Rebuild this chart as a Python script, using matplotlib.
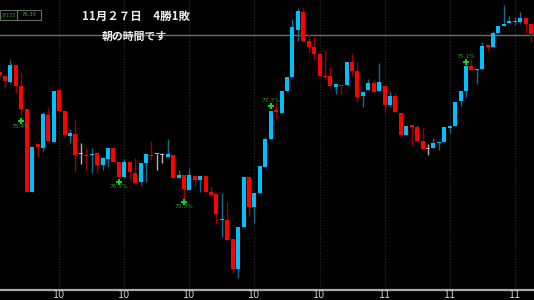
import matplotlib
matplotlib.use("Agg")
import matplotlib.pyplot as plt
import numpy as np
from matplotlib.patches import Rectangle

plt.rcParams["font.family"] = ["Noto Sans CJK JP", "DejaVu Sans"]

# 5-minute candles (arbitrary price units)
opens = [228, 224, 218, 235, 214, 191, 108, 156, 152, 185, 158, 210, 189, 164, 166, 146, 145, 145, 147, 135,
         141, 152, 138, 123, 138, 127, 118, 137, 145, 146, 145, 143, 145, 122, 125, 110, 124, 120, 124, 108,
         106, 80, 80, 61, 31, 73, 123, 93, 107, 133, 161, 190, 187, 209, 223, 270, 288, 259, 253, 246,
         224, 224, 213, 215, 215, 238, 229, 204, 210, 217, 209, 214, 195, 204, 187, 165, 175, 173, 159, 151,
         152, 157, 158, 172, 174, 199, 209, 234, 230, 231, 255, 253, 267, 274, 277, 278, 278, 282, 276]
closes = [225, 219, 235, 214, 191, 108, 153, 153, 186, 159, 209, 189, 165, 167, 145, 146, 144, 146, 135, 142,
          152, 138, 123, 138, 128, 117, 137, 146, 144, 146, 145, 146, 122, 125, 111, 125, 120, 124, 108, 105,
          86, 81, 60, 31, 73, 123, 93, 107, 134, 161, 189, 188, 209, 223, 273, 289, 259, 253, 246, 224,
          223, 214, 216, 214, 238, 229, 203, 208, 217, 208, 218, 195, 204, 188, 165, 174, 173, 159, 151, 151,
          157, 158, 173, 174, 198, 209, 234, 230, 231, 254, 253, 267, 274, 276, 279, 279, 282, 276, 266]
highs = [228, 224, 240, 235, 228, 191, 153, 156, 188, 192, 209, 210, 189, 171, 180, 157, 152, 152, 147, 142,
         152, 152, 138, 141, 138, 142, 137, 146, 159, 146, 147, 161, 145, 130, 125, 132, 124, 124, 124, 114,
         106, 107, 98, 61, 73, 123, 123, 107, 134, 163, 189, 198, 209, 223, 281, 292, 292, 266, 263, 246,
         250, 233, 216, 215, 238, 246, 238, 208, 221, 220, 237, 214, 209, 207, 187, 174, 175, 175, 172, 156,
         162, 158, 173, 174, 198, 209, 234, 241, 231, 258, 255, 269, 274, 295, 284, 283, 288, 282, 276]
lows = [225, 213, 217, 207, 185, 108, 108, 143, 149, 159, 158, 189, 165, 157, 129, 136, 130, 127, 127, 130,
        133, 138, 123, 123, 120, 117, 115, 118, 140, 130, 137, 143, 122, 122, 100, 110, 114, 108, 108, 105,
        76, 63, 60, 27, 22, 73, 84, 77, 107, 133, 161, 181, 187, 209, 223, 259, 259, 247, 240, 224,
        223, 214, 206, 206, 215, 224, 198, 193, 210, 208, 209, 187, 193, 188, 163, 165, 154, 159, 151, 145,
        152, 150, 158, 167, 174, 194, 203, 230, 216, 231, 249, 253, 267, 274, 277, 275, 276, 267, 258]

hour_ticks = [11, 23, 35, 47, 59, 71, 83, 95]
hour_labels = ["10", "10", "10", "10", "10", "11", "11", "11"]

# signal arrows: candle index, arrow level, text level, text
sig_idx = [4, 22, 34, 50, 86]
sig_arrow = [179, 118, 98, 194, 238]
sig_text_y = [174, 113, 93, 199, 243]
sig_text = ["75.4%", "76.1%", "75.3%", "77.3%", "75.1%"]

BULL = "#00bfff"
BEAR = "#ff0000"
BULL_WICK = "#136b8c"
BEAR_WICK = "#9a0000"
DOJI = "#b4b4b4"

fig = plt.figure(figsize=(5.34, 3.0), dpi=100, facecolor="black")
ax = fig.add_axes([0, 0, 1, 1])
ax.set_facecolor("black")
ax.set_xlim(0.08, 98.55)
ax.set_ylim(0, 300)
ax.axis("off")

# hour separators
for t in hour_ticks:
    ax.plot([t, t], [10.5, 300], color="#2e2e2e", linewidth=0.8, linestyle=(0, (1, 1.5)), zorder=1)
    ax.text(t, 4.5, hour_labels[hour_ticks.index(t)], color="#cfcfcf", fontsize=7,
            ha="center", va="center", family="DejaVu Sans")

ax.axhline(265, color="#6e6e6e", linewidth=1, zorder=2)
ax.axhline(10.5, color="#a8a8a8", linewidth=1.6, zorder=2)

for i in range(len(opens)):
    o, c, h, l = opens[i], closes[i], highs[i], lows[i]
    if o == c:
        body_col, wick_col = DOJI, DOJI
    elif c > o:
        body_col, wick_col = BULL, BULL_WICK
    else:
        body_col, wick_col = BEAR, BEAR_WICK
    ax.plot([i, i], [l, h], color=wick_col, linewidth=1, zorder=3, solid_capstyle="butt")
    bottom = min(o, c)
    height = max(abs(c - o), 1.2)
    ax.bar(i, height, bottom=bottom, width=0.74, color=body_col, linewidth=0, zorder=4)

# entry signals
ax.plot(sig_idx, sig_arrow, linestyle="none", marker="P", markersize=4.5,
        color="#19d219", markeredgewidth=0, zorder=5)
for x, y, s in zip(sig_idx, sig_text_y, sig_text):
    ax.text(x, y, s, color="#1e9e1e", fontsize=4.2, ha="center", va="center",
            family="DejaVu Sans", zorder=5)

# small info boxes top-left
ax.add_patch(Rectangle((0.0, 0.935), 0.031, 0.03, transform=ax.transAxes,
                       fill=False, edgecolor="#6a6a6a", linewidth=0.8))
ax.add_patch(Rectangle((0.031, 0.935), 0.046, 0.03, transform=ax.transAxes,
                       fill=False, edgecolor="#6a6a6a", linewidth=0.8))
ax.text(0.0155, 0.950, "8/133", transform=ax.transAxes, color="#2f9a2f", fontsize=3.6,
        ha="center", va="center", family="DejaVu Sans")
ax.text(0.054, 0.950, "76.39", transform=ax.transAxes, color="#2fb52f", fontsize=3.8,
        ha="center", va="center", family="DejaVu Sans")

ax.text(0.254, 0.945, "11月２７日　4勝1敗", transform=ax.transAxes, color="#ededed",
        fontsize=8.3, ha="center", va="center", fontweight="bold")
ax.text(0.251, 0.877, "朝の時間です", transform=ax.transAxes, color="#ededed",
        fontsize=7.8, ha="center", va="center", fontweight="bold", zorder=6)

fig.savefig("out.png", dpi=100, facecolor="black")
